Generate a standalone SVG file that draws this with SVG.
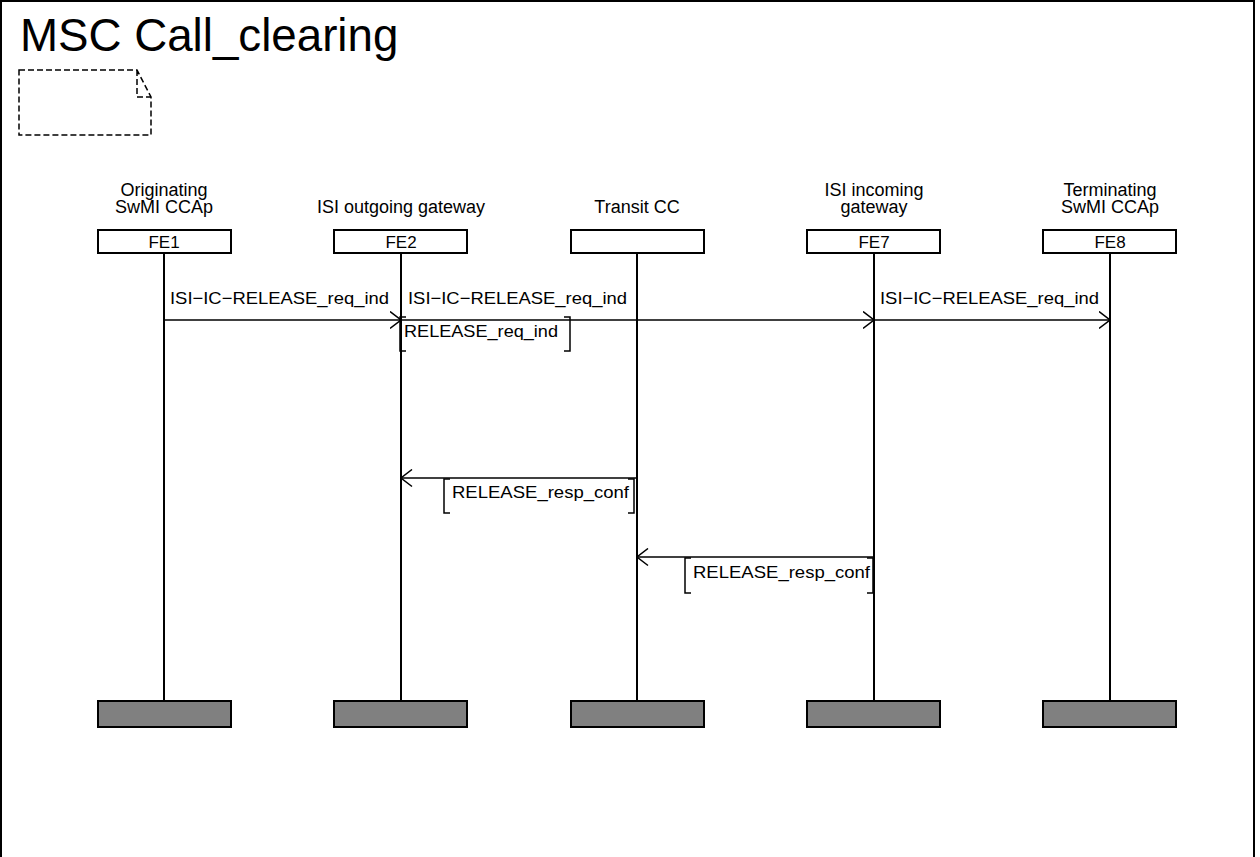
<svg xmlns="http://www.w3.org/2000/svg" width="1260" height="857" viewBox="0 0 1260 857">
  <style>
    text { font-family: "Liberation Sans", Arial, sans-serif; fill: #000; }
    .title { font-size: 45.7px; }
    .hdr { font-size: 18px; text-anchor: middle; }
    .fe { font-size: 17px; text-anchor: middle; }
    .lbl { font-size: 17px; }
    .head { fill: #fff; stroke: #000; stroke-width: 2; }
    .foot { fill: #808080; stroke: #000; stroke-width: 2; }
    .life { stroke: #000; stroke-width: 2; fill: none; }
    .msg { stroke: #000; stroke-width: 1.5; fill: none; }
    .brk { stroke: #000; stroke-width: 1.5; fill: none; }
    .note { stroke: #000; stroke-width: 1.5; fill: none; stroke-dasharray: 6 3; }
  </style>
  <defs>
    <marker id="open" viewBox="0 0 12 19" refX="11.5" refY="9.5" markerWidth="12" markerHeight="19" markerUnits="userSpaceOnUse" orient="auto">
      <path d="M0.5,1 L11.5,9.5 L0.5,18" fill="none" stroke="#000" stroke-width="1.5"/>
    </marker>
  </defs>

  <rect width="1260" height="857" fill="#fff"/>

  <!-- frame -->
  <g id="frame">
    <rect x="1" y="1" width="1253" height="880" fill="none" stroke="#000" stroke-width="2"/>
    <text class="title" x="20" y="51">MSC Call_clearing</text>
    <path class="note" d="M19,70 H137 L151,97 V135 H19 Z M137,70 V97 H151"/>
  </g>

  <!-- instances -->
  <g id="fe1">
    <text class="hdr" x="164" y="196">Originating</text>
    <text class="hdr" x="164" y="213">SwMI CCAp</text>
    <rect class="head" x="98" y="230" width="133" height="23"/>
    <text class="fe" x="164" y="248">FE1</text>
    <line class="life" x1="164" y1="253" x2="164" y2="701"/>
    <rect class="foot" x="98" y="701" width="133" height="26"/>
  </g>
  <g id="fe2">
    <text class="hdr" x="401" y="213">ISI outgoing gateway</text>
    <rect class="head" x="334" y="230" width="133" height="23"/>
    <text class="fe" x="401" y="248">FE2</text>
    <line class="life" x1="401" y1="253" x2="401" y2="701"/>
    <rect class="foot" x="334" y="701" width="133" height="26"/>
  </g>
  <g id="transit">
    <text class="hdr" x="637" y="213">Transit CC</text>
    <rect class="head" x="571" y="230" width="133" height="23"/>
    <line class="life" x1="637" y1="253" x2="637" y2="701"/>
    <rect class="foot" x="571" y="701" width="133" height="26"/>
  </g>
  <g id="fe7">
    <text class="hdr" x="874" y="196">ISI incoming</text>
    <text class="hdr" x="874" y="213">gateway</text>
    <rect class="head" x="807" y="230" width="133" height="23"/>
    <text class="fe" x="874" y="248">FE7</text>
    <line class="life" x1="874" y1="253" x2="874" y2="701"/>
    <rect class="foot" x="807" y="701" width="133" height="26"/>
  </g>
  <g id="fe8">
    <text class="hdr" x="1110" y="196">Terminating</text>
    <text class="hdr" x="1110" y="213">SwMI CCAp</text>
    <rect class="head" x="1043" y="230" width="133" height="23"/>
    <text class="fe" x="1110" y="248">FE8</text>
    <line class="life" x1="1110" y1="253" x2="1110" y2="701"/>
    <rect class="foot" x="1043" y="701" width="133" height="26"/>
  </g>

  <!-- messages -->
  <g id="connectors">
    <line class="msg" x1="164" y1="320" x2="401" y2="320" marker-end="url(#open)"/>
    <text class="lbl" x="170" y="304" textLength="219" lengthAdjust="spacingAndGlyphs">ISI−IC−RELEASE_req_ind</text>

    <line class="msg" x1="401" y1="320" x2="874" y2="320" marker-end="url(#open)"/>
    <text class="lbl" x="408" y="304" textLength="219" lengthAdjust="spacingAndGlyphs">ISI−IC−RELEASE_req_ind</text>
    <path class="brk" d="M406,317 H400 V351 H406 M564,317 H570 V351 H564"/>
    <text class="lbl" x="404" y="337" textLength="154" lengthAdjust="spacingAndGlyphs">RELEASE_req_ind</text>

    <line class="msg" x1="874" y1="320" x2="1110" y2="320" marker-end="url(#open)"/>
    <text class="lbl" x="880" y="304" textLength="219" lengthAdjust="spacingAndGlyphs">ISI−IC−RELEASE_req_ind</text>

    <line class="msg" x1="637" y1="478" x2="401" y2="478" marker-end="url(#open)"/>
    <path class="brk" d="M450,479 H444 V513 H450 M628,479 H634 V513 H628"/>
    <text class="lbl" x="452" y="498" textLength="177" lengthAdjust="spacingAndGlyphs">RELEASE_resp_conf</text>

    <line class="msg" x1="874" y1="557" x2="637" y2="557" marker-end="url(#open)"/>
    <path class="brk" d="M691,558 H685 V593 H691 M867,558 H873 V593 H867"/>
    <text class="lbl" x="693" y="578" textLength="177" lengthAdjust="spacingAndGlyphs">RELEASE_resp_conf</text>
  </g>
</svg>
